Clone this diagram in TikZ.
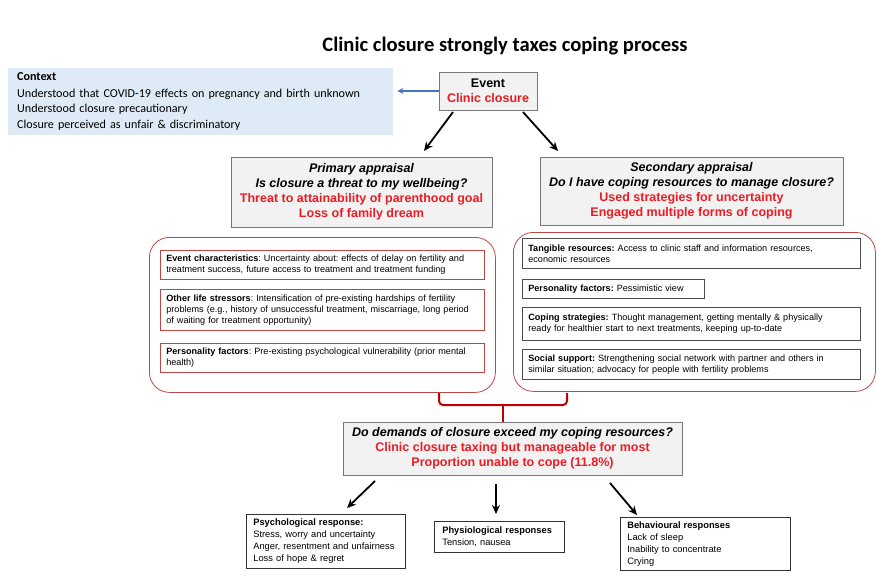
\documentclass[tikz,border=0pt]{standalone}
\usepackage{fontspec}
\setmainfont{Liberation Sans}
\newfontfamily\calfont{Carlito}
\usetikzlibrary{arrows.meta}
\frenchspacing
\definecolor{txtred}{RGB}{235,28,36}
\definecolor{ctxblue}{RGB}{222,235,247}
\definecolor{boxgray}{RGB}{242,242,242}
\definecolor{bordgray}{RGB}{120,120,120}
\definecolor{contred}{RGB}{190,70,68}
\definecolor{bracered}{RGB}{192,0,0}
\definecolor{arrblue}{RGB}{68,114,196}
\begin{document}
\begin{tikzpicture}[x=1pt,y=-1pt,
  graybox/.style={draw=bordgray, fill=boxgray, line width=0.8pt, align=center, inner sep=0pt,
    font=\fontsize{12.5}{15}\selectfont\bfseries},
  container/.style={draw=contred, line width=0.8pt, rounded corners=20pt, anchor=north west, inner sep=0pt},
  lbox/.style={draw=contred, line width=0.7pt, anchor=north west, align=left, inner xsep=6pt, inner ysep=0pt,
    font=\fontsize{9.1}{11}\selectfont},
  rbox/.style={draw=black!70, line width=0.7pt, anchor=north west, align=left, inner xsep=6pt, inner ysep=0pt,
    font=\fontsize{9.1}{11}\selectfont},
  bbox/.style={draw=black!80, line width=0.7pt, anchor=north west, align=left, inner xsep=7pt, inner ysep=0pt,
    font=\fontsize{9.3}{12}\selectfont},
  arr/.style={line width=1.8pt, -{Stealth[length=9pt,width=8pt]}}
]
\useasboundingbox (0,0) rectangle (877,576);

% title
\node (title) at (505,46) {\calfont\fontsize{20.6}{24}\selectfont\bfseries Clinic closure strongly taxes coping process};

% context
\node (ctx) [fill=ctxblue, anchor=north west, minimum width=385pt, minimum height=67pt, text width=367pt,
  inner xsep=9pt, inner ysep=0pt, align=left, font=\calfont\fontsize{12.1}{15.6}\selectfont] at (8,68)
  {\textbf{Context}\\[1pt]Understood that COVID-19 effects on pregnancy and birth unknown\\Understood closure precautionary\\Closure perceived as unfair \& discriminatory};

% event
\node (event) [graybox, minimum width=98pt, minimum height=38pt] at (488,91)
  {Event\\\textcolor{txtred}{Clinic closure}};

% appraisals
\node (prim) [graybox, minimum width=261pt, minimum height=70pt] at (361.5,192)
  {\itshape Primary appraisal\\\itshape Is closure a threat to my wellbeing?\\
   \textcolor{txtred}{Threat to attainability of parenthood goal}\\\textcolor{txtred}{Loss of family dream}};
\node (sec) [graybox, minimum width=303pt, minimum height=68pt] at (691.5,191)
  {\itshape Secondary appraisal\\\itshape Do I have coping resources to manage closure?\\
   \textcolor{txtred}{Used strategies for uncertainty}\\\textcolor{txtred}{Engaged multiple forms of coping}};

% containers
\node (lcont) [container, minimum width=346pt, minimum height=155pt] at (149,237) {};
\node (rcont) [container, minimum width=362pt, minimum height=159pt] at (513,232) {};

% left inner
\node (ec) [lbox, text width=312pt, minimum height=29pt] at (160,250)
  {\textbf{Event characteristics}: Uncertainty about: effects of delay on fertility and\\treatment success, future access to treatment and treatment funding};
\node (ols) [lbox, text width=312pt, minimum height=41pt] at (160,289)
  {\textbf{Other life stressors}: Intensification of pre-existing hardships of fertility\\problems (e.g., history of unsuccessful treatment, miscarriage, long period\\of waiting for treatment opportunity)};
\node (pfl) [lbox, text width=312pt, minimum height=29pt] at (160,343)
  {\textbf{Personality factors}: Pre-existing psychological vulnerability (prior mental\\health)};

% right inner
\node (tang) [rbox, text width=326pt, minimum height=30pt] at (522,238)
  {\textbf{Tangible resources:} Access to clinic staff and information resources,\\economic resources};
\node (pfr) [rbox, text width=170pt, minimum height=19pt] at (522,279)
  {\textbf{Personality factors:} Pessimistic view};
\node (cop) [rbox, text width=326pt, minimum height=33pt] at (522,307)
  {\textbf{Coping strategies:} Thought management, getting mentally \& physically\\ready for healthier start to next treatments, keeping up-to-date};
\node (soc) [rbox, text width=326pt, minimum height=30pt] at (522,349)
  {\textbf{Social support:} Strengthening social network with partner and others in\\similar situation; advocacy for people with fertility problems};

% question
\node (q) [graybox, minimum width=339pt, minimum height=53pt] at (512.5,448.5)
  {\itshape Do demands of closure exceed my coping resources?\\
   \textcolor{txtred}{Clinic closure taxing but manageable for most}\\\textcolor{txtred}{Proportion unable to cope (11.8\%)}};

% bottom
\node (psy) [bbox, text width=145pt, minimum height=54pt] at (246,514)
  {\textbf{Psychological response:}\\Stress, worry and uncertainty\\Anger, resentment and unfairness\\Loss of hope \& regret};
\node (phy) [bbox, inner xsep=8pt, text width=114pt, minimum height=31pt] at (434,521)
  {\textbf{Physiological responses}\\Tension, nausea};
\node (beh) [bbox, text width=156pt, minimum height=53pt] at (620,517)
  {\textbf{Behavioural responses}\\Lack of sleep\\Inability to concentrate\\Crying};

% connectors
\draw[arrblue, line width=1.5pt, -{Stealth[length=6pt,width=6pt]}, shorten >=4pt] (event.west) -- (event.west -| ctx.east);

\coordinate (e1) at (453,112);
\coordinate (e2) at (523,112);
\coordinate (p1) at (424,151);
\coordinate (s1) at (558,151);
\draw[arr] (e1) -- (p1);
\draw[arr] (e2) -- (s1);

\coordinate (bl) at (439,393);
\coordinate (br) at (567,393);
\coordinate (bm) at (503,405);
\draw[bracered, line width=2pt, rounded corners=4pt] (bl) |- (bm) -| (br);
\draw[bracered, line width=2pt] (bm) -- (bm |- q.north);

\coordinate (q1) at (375,481);
\coordinate (q2) at (496,484);
\coordinate (q3) at (610,483);
\coordinate (t1) at (347,508);
\coordinate (t2) at (496,514);
\coordinate (t3) at (637,515);
\draw[arr] (q1) -- (t1);
\draw[arr] (q2) -- (t2);
\draw[arr] (q3) -- (t3);
\end{tikzpicture}
\end{document}
